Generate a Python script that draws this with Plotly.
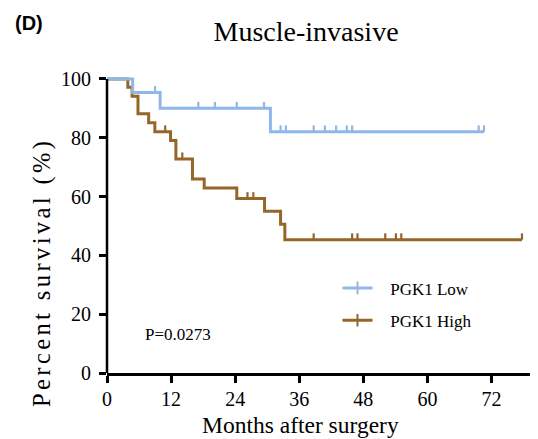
import numpy as np
import plotly.graph_objects as go

# ---------------- data ----------------
low_time = [0, 4.8, 9.95, 30.6]
low_surv = [100, 95.4, 90.0, 82.0]
low_end = 70.6
low_censor = [9.0, 17.1, 20.2, 24.3, 29.4, 32.5, 33.5, 38.7, 40.8, 42.9,
              44.9, 45.9, 69.6, 70.6]

high_time = [0, 3.9, 4.7, 5.8, 7.8, 8.96, 11.9, 12.9, 16.0, 18.2, 24.3,
             29.5, 32.5, 33.3]
high_surv = [100, 97.2, 94.1, 88.2, 85.1, 82.0, 79.1, 72.8, 66.0, 62.9,
             59.3, 55.0, 50.6, 45.3]
high_end = 77.7
high_censor = [10.9, 14.1, 26.3, 27.4, 38.7, 45.9, 46.9, 52.1, 54.1, 55.1, 77.7]

x_ticks = [0, 12, 24, 36, 48, 60, 72]
y_ticks = [0, 20, 40, 60, 80, 100]

series_names = ["PGK1 Low", "PGK1 High"]
p_text = "P=0.0273"

BLUE = "#8fb8e6"
BROWN = "#94662a"
SERIF = "Liberation Serif, Times New Roman, serif"
TICK_H = 2.2  # censor tick height in survival units
PAD = "\u00a0\u00a0\u00a0"  # gap between legend symbol and text


def surv_at(t, times, surv):
    idx = int(np.searchsorted(times, t, side="right")) - 1
    return surv[idx]


def censor_segments(ct, times, surv):
    xs, ys = [], []
    for t in ct:
        s = surv_at(t, times, surv)
        xs += [t, t, None]
        ys += [s, s + TICK_H, None]
    return xs, ys


fig = go.Figure()

groups = [
    (high_time, high_surv, high_end, high_censor, BROWN, series_names[1], "legend2"),
    (low_time, low_surv, low_end, low_censor, BLUE, series_names[0], "legend"),
]

for times, surv, end, cens, col, name, leg in groups:
    fig.add_trace(go.Scatter(
        x=list(times) + [end], y=list(surv) + [surv[-1]],
        mode="lines", line=dict(color=col, width=3, shape="hv"),
        showlegend=False, hoverinfo="skip"))
    cx, cy = censor_segments(cens, times, surv)
    fig.add_trace(go.Scatter(
        x=cx, y=cy, mode="lines", line=dict(color=col, width=2.2),
        showlegend=False, hoverinfo="skip"))
    fig.add_trace(go.Scatter(
        x=[None], y=[None], mode="lines+markers", name=PAD + name, legend=leg,
        line=dict(color=col, width=3),
        marker=dict(symbol="line-ns", size=9, line=dict(color=col, width=2))))

fig.add_shape(type="line", xref="paper", yref="y", x0=0, x1=0, y0=0, y1=100,
              line=dict(color="black", width=2.5), layer="above")

fig.add_annotation(text=p_text, xref="paper", yref="paper", x=0.162, y=0.131,
                   xanchor="center", yanchor="middle", showarrow=False,
                   font=dict(family=SERIF, size=17, color="black"))
fig.add_annotation(text="<b>(D)</b>", xref="paper", yref="paper", x=-0.178, y=1.178,
                   xanchor="center", yanchor="middle", showarrow=False,
                   font=dict(family="Liberation Sans, Arial, sans-serif", size=20, color="black"))
fig.add_annotation(text="Months after surgery", xref="paper", yref="paper",
                   x=0.4415, y=-0.175, xanchor="center", yanchor="middle", showarrow=False,
                   font=dict(family=SERIF, size=23.5, color="black"))
fig.add_annotation(text='<span style="letter-spacing:3.4px">Percent survival (%)</span>',
                   xref="paper", yref="paper", x=-0.148, y=0.337, textangle=-90,
                   xanchor="center", yanchor="middle", showarrow=False,
                   font=dict(family=SERIF, size=24.5, color="black"))

legend_common = dict(font=dict(family=SERIF, size=17, color="black"),
                     bgcolor="rgba(0,0,0,0)", borderwidth=0,
                     xanchor="left", yanchor="middle")

fig.update_layout(
    width=538, height=439,
    margin=dict(l=99, r=0, t=68, b=74),
    paper_bgcolor="white", plot_bgcolor="white",
    title=dict(text="Muscle-invasive", xref="container", yref="container",
               x=0.554, y=0.947, xanchor="center", yanchor="middle",
               font=dict(family=SERIF, size=28, color="black")),
    legend=dict(x=0.525, y=0.285, **legend_common),
    legend2=dict(x=0.525, y=0.176, **legend_common),
    xaxis=dict(range=[0, 82.2], tickvals=x_ticks, ticktext=[str(v) for v in x_ticks],
               showgrid=False, zeroline=False, showline=True, linecolor="black",
               linewidth=2.5, ticks="outside", ticklen=7, tickwidth=2.5,
               tickcolor="black", ticklabelstandoff=-1,
               tickfont=dict(family=SERIF, size=20, color="black")),
    yaxis=dict(range=[0, 101], tickvals=y_ticks, ticktext=[str(v) for v in y_ticks],
               showgrid=False, zeroline=False, showline=False,
               ticks="outside", ticklen=7, tickwidth=2.5, tickcolor="black",
               ticklabelstandoff=4,
               tickfont=dict(family=SERIF, size=20, color="black")),
)

fig.write_html("out.html")
